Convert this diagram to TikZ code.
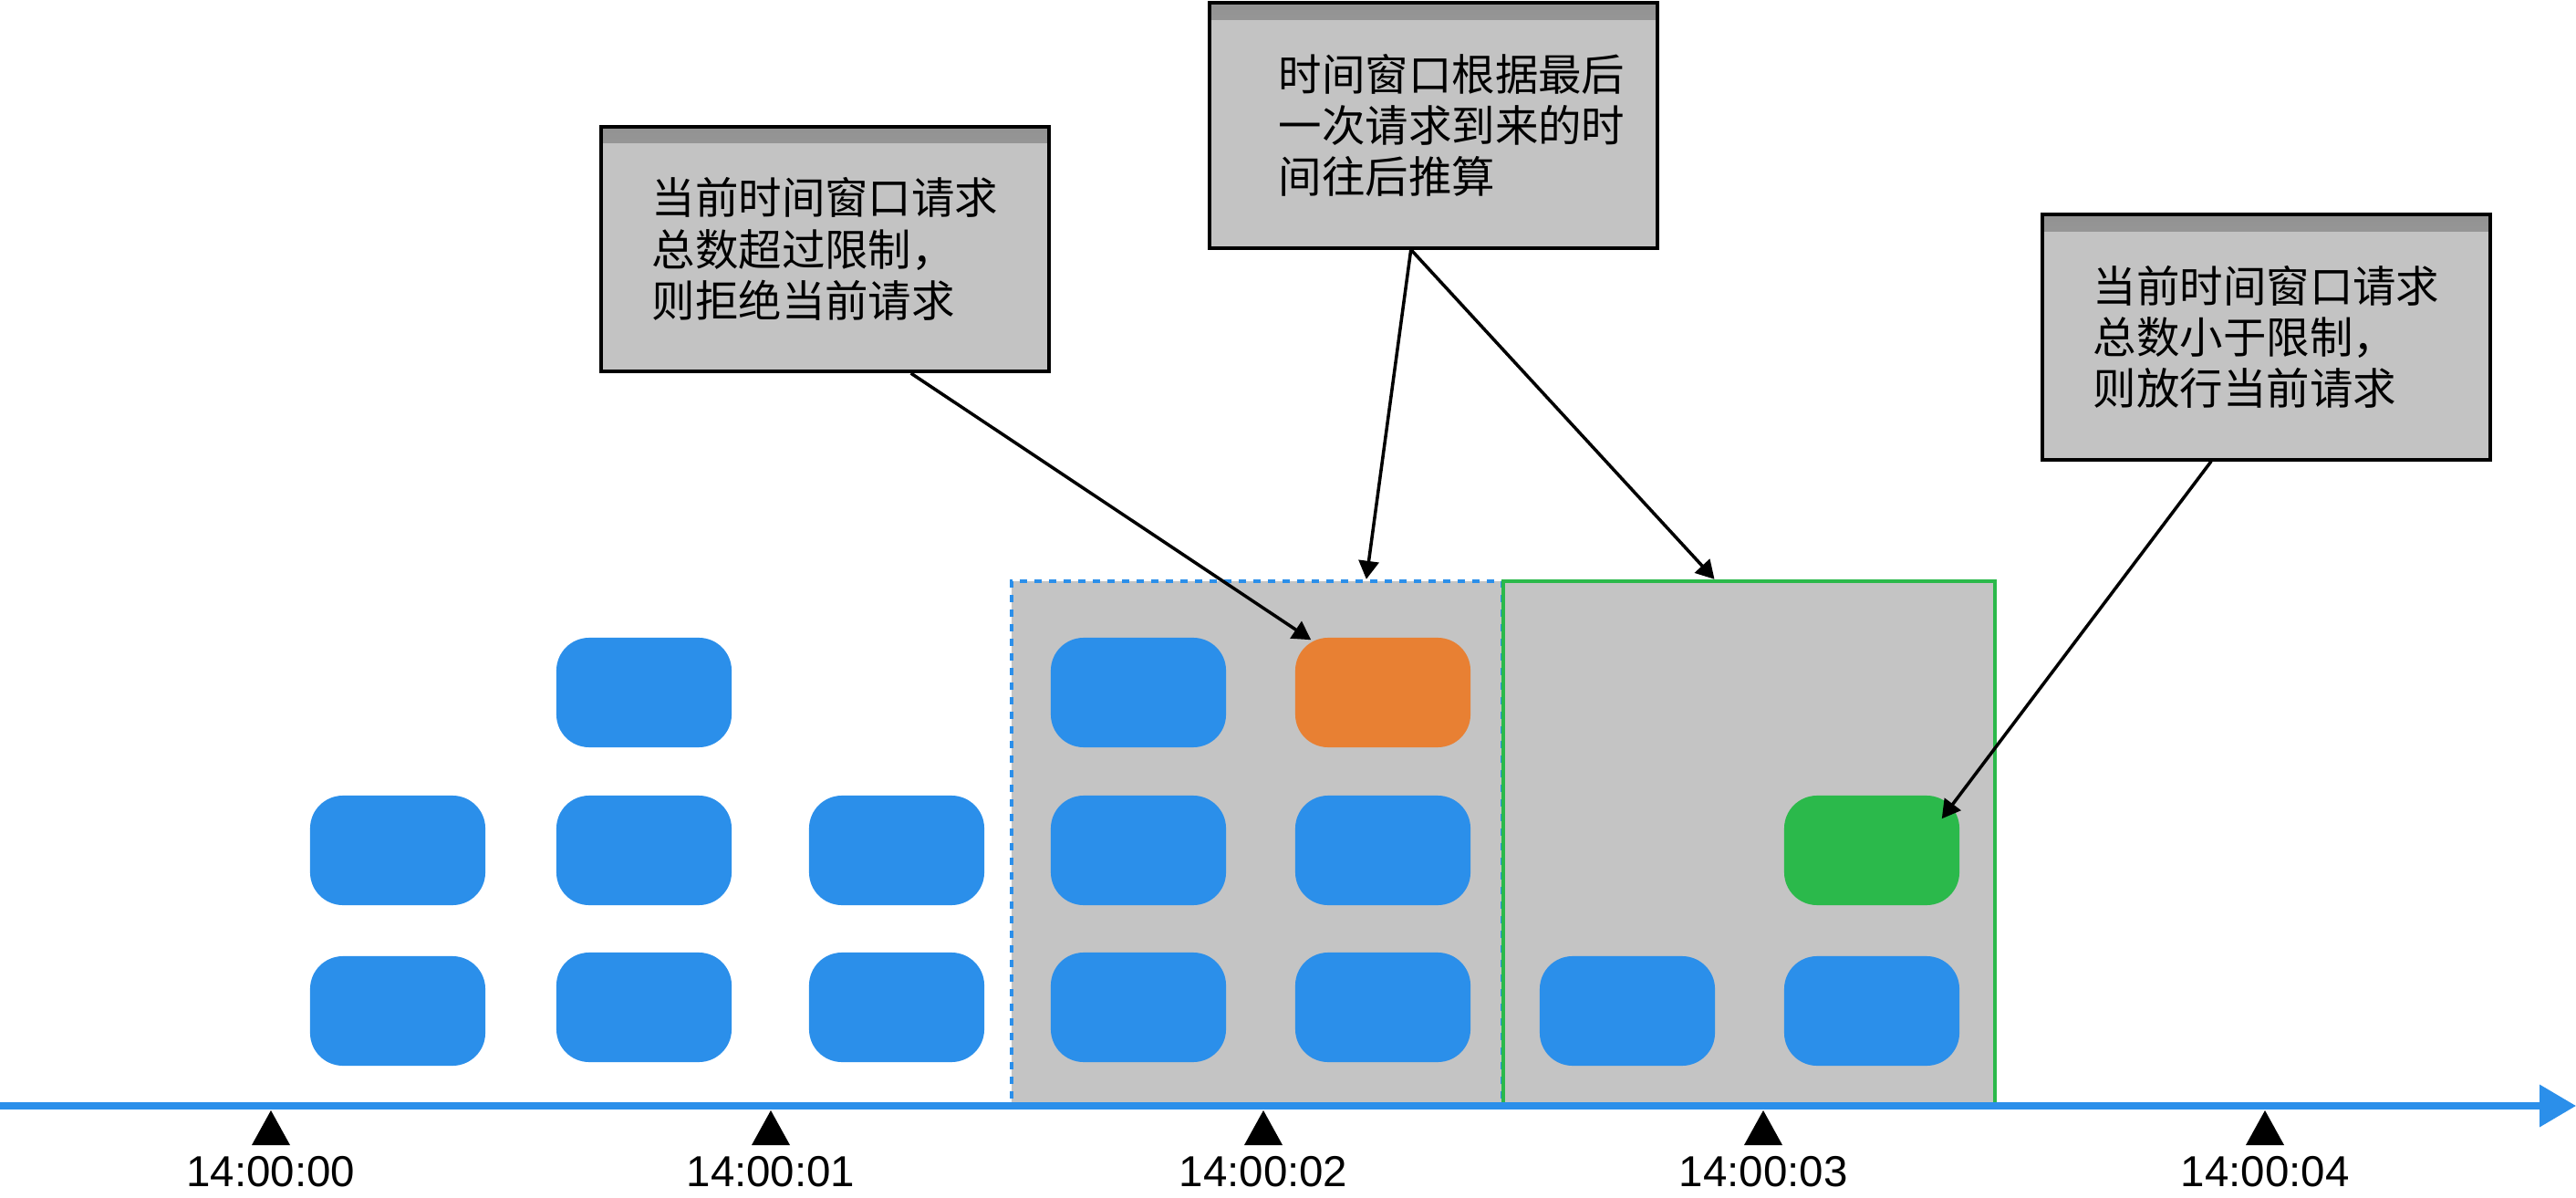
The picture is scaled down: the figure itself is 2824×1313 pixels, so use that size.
\documentclass[tikz,border=0pt]{standalone}
\usepackage{fontspec}
\setmainfont{Liberation Sans}
\newfontfamily\cjk{Noto Sans CJK SC}
\usetikzlibrary{arrows.meta,calc,positioning}

\definecolor{reqblue}{RGB}{43,143,234}
\definecolor{rejorange}{RGB}{232,128,51}
\definecolor{passgreen}{RGB}{43,185,75}
\definecolor{wingray}{RGB}{196,196,196}
\definecolor{notegray}{RGB}{195,195,195}

\tikzset{
  req/.style={rectangle, rounded corners=0.36cm, fill=reqblue, minimum width=1.92cm, minimum height=1.2cm, inner sep=0},
  win/.style={rectangle, fill=wingray, line width=1.14pt, minimum width=5.38cm, minimum height=5.73cm, inner sep=0},
  note/.style={rectangle, draw=black, line width=1.14pt, fill=notegray, minimum width=4.91cm, minimum height=2.68cm, align=left,
    font=\cjk\fontsize{13.5pt}{16pt}\selectfont,
    path picture={\shade[top color=notegray!75!black, bottom color=notegray] (path picture bounding box.north west) rectangle ([yshift=-0.18cm]path picture bounding box.north east);}},
  pointer/.style={line width=1pt, -{Triangle[length=0.2cm, width=0.22cm]}},
  time/.style={anchor=base, inner sep=0, font=\fontsize{13.5pt}{16pt}\selectfont},
}

\begin{document}
\begin{tikzpicture}[x=0.01cm, y=-0.01cm]
  \useasboundingbox (0,0) rectangle (2824,1313);
  % the two windows
  \node[win, draw=reqblue, dash pattern=on 0.08cm off 0.08cm] (win1) at (1378,923.5) {};
  \node[win, draw=passgreen] (win2) at (1917.5,923.5) {};
  % time axis and ticks
  \coordinate (axis start) at (0,1212);
  \coordinate (axis end) at (2824,1212);
  \draw[reqblue, line width=2pt, -{Triangle[length=0.4cm, width=0.45cm]}] (axis start) -- (axis end);
  \foreach \x [count=\i from 0] in {297,845,1385,1933,2483} {
    \fill (\x,1217) -- (\x+21,1255) -- (\x-21,1255) -- cycle;
    \node[time] (t\i) at (\x,1300) {14:00:0\i};
  }
  % requests
  \foreach \x/\y [count=\i] in {436/932, 436/1108, 706/759, 706/932, 706/1104, 983/932, 983/1104,
      1248/759, 1248/932, 1248/1104, 1516/932, 1516/1104, 1784/1108, 2052/1108}
    \node[req] (r\i) at (\x,\y) {};
  \node[req, fill=rejorange] (rej) at (1516,759) {};
  \node[req, fill=passgreen] (pass) at (2052,932) {};
  % notes
  \node[note] (n1) at (904.5,273) {当前时间窗口请求\\总数超过限制，\\则拒绝当前请求};
  \node[note] (n2) at (1571.5,137.5) {\hspace*{0.4cm}时间窗口根据最后\\\hspace*{0.4cm}一次请求到来的时\\\hspace*{0.4cm}间往后推算};
  \node[note] (n3) at (2484.5,369.5) {当前时间窗口请求\\总数小于限制，\\则放行当前请求};
  \draw[pointer] ($(n1.south west)!0.69!(n1.south east)$) -- ($(rej.north west)+(18,3)$);
  \draw[pointer] ($(n2.south west)!0.45!(n2.south east)$) -- ($(win1.north west)!0.721!(win1.north east)$);
  \draw[pointer] ($(n2.south west)!0.45!(n2.south east)$) -- ($(win2.north west)!0.43!(win2.north east)$);
  \draw[pointer] ($(n3.south west)!0.378!(n3.south east)$) -- ($(pass.north east)+(-20,26)$);
\end{tikzpicture}
\end{document}
